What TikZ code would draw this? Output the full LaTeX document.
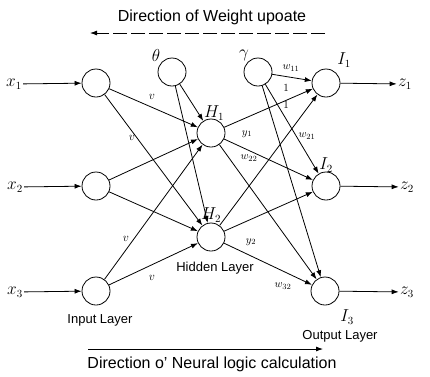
\documentclass[tikz,border=0pt]{standalone}
\usepackage{fontspec}
\setsansfont{Liberation Sans}
\usetikzlibrary{arrows.meta}
\tikzset{
  neuron/.style={draw, circle, minimum size=28pt, inner sep=0pt},
  sym/.style={font=\fontsize{16}{18}\selectfont, inner sep=1pt},
  wgt/.style={font=\fontsize{11}{13}\selectfont, inner sep=0pt},
  vwgt/.style={font=\fontsize{13}{15}\selectfont, inner sep=0pt},
  layer/.style={font=\sffamily\fontsize{13}{15}\selectfont, inner sep=0pt},
  dirtext/.style={font=\sffamily\fontsize{16}{18}\selectfont, inner sep=0pt}
}
\begin{document}
\begin{tikzpicture}[>={Latex[length=7pt,width=5pt]}, x=1pt, y=-1pt, line width=0.8pt]
    \useasboundingbox (0,0) rectangle (430,376);
    % neurons
    \node[neuron] (in1) at (96,83) {};
    \node[neuron] (in2) at (96,186) {};
    \node[neuron] (in3) at (96,291) {};
    \node[neuron] (th) at (172,72) {};
    \node[neuron] (ga) at (258,72) {};
    \node[neuron] (h1) at (211,133) {};
    \node[neuron] (h2) at (211,237) {};
    \node[neuron] (o1) at (326,83) {};
    \node[neuron] (o2) at (326,186) {};
    \node[neuron] (o3) at (325,291) {};
    % inputs and outputs
    \node[sym] (x1) at (14,84) {$x_1$};
    \node[sym] (x2) at (15,187) {$x_2$};
    \node[sym] (x3) at (15,292) {$x_3$};
    \node[sym] (z1) at (405,84) {$z_1$};
    \node[sym] (z2) at (407,187) {$z_2$};
    \node[sym] (z3) at (407,292) {$z_3$};
    \draw[->] (x1)--(in1);
    \draw[->] (x2)--(in2);
    \draw[->] (x3)--(in3);
    \draw[->] (o1)--(z1);
    \draw[->] (o2)--(z2);
    \draw[->] (o3)--(z3);
    % input to hidden
    \draw[->] (in1)--(h1);
    \draw[->] (in1)--(h2);
    \draw[->] (in2)--(h1);
    \draw[->] (in2)--(h2);
    \draw[->] (in3)--(h1);
    \draw[->] (in3)--(h2);
    \draw[->] (th)--(h1);
    \draw[->] (th)--(h2);
    % hidden to output
    \draw[->] (h1)--(o1);
    \draw[->] (h1)--(o2);
    \draw[->] (h1)--(o3);
    \draw[->] (h2)--(o1);
    \draw[->] (h2)--(o2);
    \draw[->] (h2)--(o3);
    \draw[->] (ga)--(o1);
    \draw[->] (ga)--(o2);
    \draw[->] (ga)--(o3);
    % neuron labels
    \node[sym] (thlbl) at (156,55) {$\theta$};
    \node[sym] (galbl) at (244,55) {$\gamma$};
    \node[sym] (h1lbl) at (214,113) {$H_1$};
    \node[sym] (h2lbl) at (211,215) {$H_2$};
    \node[sym] (i1lbl) at (344,60) {$I_1$};
    \node[sym] (i2lbl) at (326,165) {$I_2$};
    \node[sym] (i3lbl) at (347,317) {$I_3$};
    % weights
    \node[vwgt] (v1) at (152,97) {$v$};
    \node[vwgt] (v2) at (132,138) {$v$};
    \node[vwgt] (v3) at (126,239) {$v$};
    \node[vwgt] (v4) at (152,278) {$v$};
    \node[wgt] (y1) at (247,134) {$y_1$};
    \node[wgt] (y2) at (251,242) {$y_2$};
    \node[wgt] (w11) at (291,68) {$w_{11}$};
    \node[wgt] (w21) at (307,136) {$w_{21}$};
    \node[wgt] (w22) at (249,158) {$w_{22}$};
    \node[wgt] (w32) at (283,286) {$w_{32}$};
    \node[wgt] (one1) at (286,88) {$1$};
    \node[wgt] (one2) at (286,105) {$1$};
    % layer names
    \node[layer] (inlay) at (100,320) {Input Layer};
    \node[layer] (hidlay) at (215,268) {Hidden Layer};
    \node[layer] (outlay) at (340,336) {Output Layer};
    % directions
    \node[dirtext] (updtxt) at (212,17) {Direction of Weight upoate};
    \coordinate (upda) at (325,33);
    \coordinate (updb) at (90,33);
    \draw[->, dash pattern=on 14pt off 4pt] (upda)--(updb);
    \coordinate (cala) at (88,349);
    \coordinate (calb) at (323,349);
    \draw[->] (cala)--(calb);
    \node[dirtext] (caltxt) at (212,364) {Direction o' Neural logic calculation};
\end{tikzpicture}
\end{document}
